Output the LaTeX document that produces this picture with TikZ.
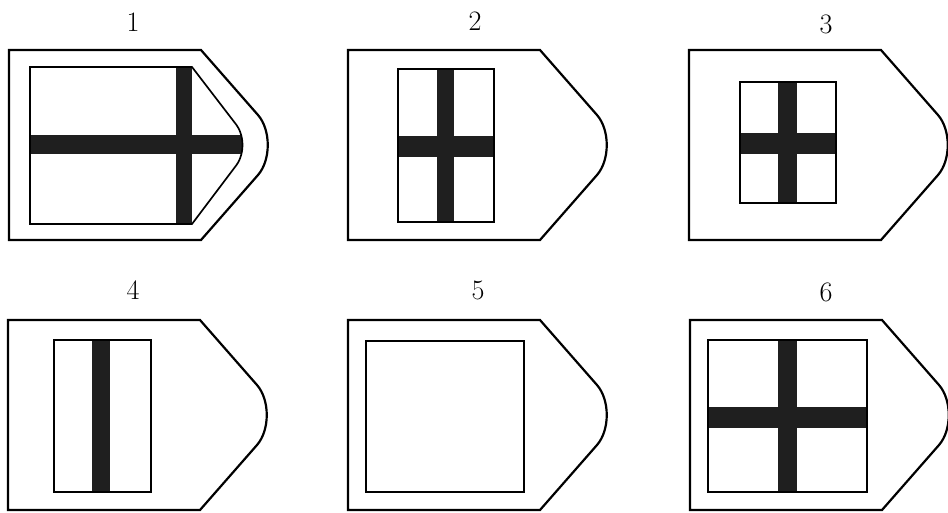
\documentclass[tikz,border=0pt]{standalone}

\tikzset{
    tag/.style={line width=1.25pt, line join=miter},
    frame/.style={line width=0.95pt},
    bar/.style={fill=black!88},
    num/.style={anchor=base, font=\fontsize{16}{19}\selectfont},
}

\begin{document}
\begin{tikzpicture}[x=0.02cm,y=-0.02cm]
    \useasboundingbox (0,0) rectangle (948,512);

    % outer tags with their numbers
    \foreach \n/\px/\py/\lx/\ly in {
        1/9/50/133/31, 2/348/50/475/30, 3/689/50/826/33,
        4/8/320/133/299, 5/348/320/478/299, 6/690/320/826/301}
    {
        \draw[tag, shift={(\px,\py)}] (0,0) -- (192,0) -- (249,65)
            .. controls (262,80) and (262,110) .. (249,125)
            -- (192,190) -- (0,190) -- cycle;
        \node[num] (lbl\n) at (\lx,\ly) {\n};
    }

    % 1: window follows the tip
    \begin{scope}[shift={(9,50)}]
        \begin{scope}
            \clip (21,17) -- (183,17) -- (226,73)
                .. controls (236,85) and (236,105) .. (226,117)
                -- (183,174) -- (21,174) -- cycle;
            \fill[bar] (167,0) rectangle (183,190);
            \fill[bar] (0,85) rectangle (260,104);
        \end{scope}
        \draw[frame] (21,17) -- (183,17) -- (226,73)
            .. controls (236,85) and (236,105) .. (226,117)
            -- (183,174) -- (21,174) -- cycle;
    \end{scope}

    % 2
    \fill[bar] (437,69) rectangle (454,222);
    \fill[bar] (398,136) rectangle (494,157);
    \draw[frame] (398,69) rectangle (494,222);

    % 3
    \fill[bar] (778,82) rectangle (797,203);
    \fill[bar] (740,133) rectangle (836,154);
    \draw[frame] (740,82) rectangle (836,203);

    % 4
    \fill[bar] (92,340) rectangle (110,492);
    \draw[frame] (54,340) rectangle (151,492);

    % 5
    \draw[frame] (366,341) rectangle (524,492);

    % 6
    \fill[bar] (778,340) rectangle (797,492);
    \fill[bar] (708,407) rectangle (867,428);
    \draw[frame] (708,340) rectangle (867,492);
\end{tikzpicture}
\end{document}
